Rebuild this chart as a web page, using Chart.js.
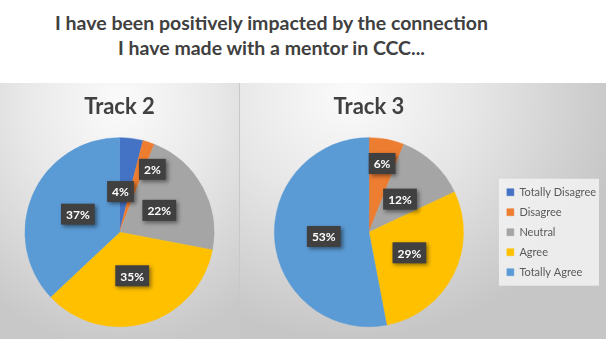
<!DOCTYPE html>
<html>
<head>
<meta charset="utf-8">
<script src="https://cdn.jsdelivr.net/npm/chart.js@4.4.0/dist/chart.umd.min.js"></script>
<style>
  body { margin: 0; width: 606px; height: 339px; background: #fff; overflow: hidden; position: relative; font-family: Lato, sans-serif; }
  #title { position: absolute; left: 0; top: 10px; width: 543px; text-align: center; font-weight: bold; font-size: 19.5px; line-height: 25px; color: #404040; }
  .panel { position: absolute; top: 83px; height: 256px; }
  #p2 { left: 0; width: 239px; background: radial-gradient(ellipse 90% 95% at 50% 8%, #fbfbfb 0%, #e8e8e8 45%, #c8c8c8 100%); }
  #p3 { left: 239px; width: 367px; background: radial-gradient(ellipse 75% 95% at 30% 5%, #fbfbfb 0%, #e6e6e6 45%, #c6c6c6 100%); border-left: 1px solid #c8c8c8; box-sizing: border-box; }
  canvas { display: block; }
</style>
</head>
<body>
<div id="title">I have been positively impacted by the connection<br>I have made with a mentor in CCC...</div>
<div class="panel" id="p2"><canvas id="track2"></canvas></div>
<div class="panel" id="p3"><canvas id="track3"></canvas></div>
<script>
const categorias = ['Totally Disagree', 'Disagree', 'Neutral', 'Agree', 'Totally Agree'];
const track2Valores = [4, 2, 22, 35, 37];
const track3Valores = [0, 6, 12, 29, 53];
const colores = ['#4472C4', '#ED7D31', '#A5A5A5', '#FFC000', '#5B9BD5'];

// etiquetas de porcentaje en cajas oscuras
const etiquetas = {
  id: 'etiquetas',
  afterDatasetsDraw(chart, args, opts) {
    const ctx = chart.ctx;
    const meta = chart.getDatasetMeta(0);
    const data = chart.data.datasets[0].data;
    meta.data.forEach((arc, i) => {
      if (!data[i]) return;
      const p = (opts.pos && opts.pos[i]) || [0.48, 0];
      const mid = (arc.startAngle + arc.endAngle) / 2 + p[1] * Math.PI / 180;
      const r = arc.outerRadius * p[0];
      const x = arc.x + Math.cos(mid) * r;
      const y = arc.y + Math.sin(mid) * r;
      const txt = data[i] + '%';
      ctx.save();
      ctx.font = 'bold 12px Lato';
      const w = ctx.measureText(txt).width + 10;
      const h = 21;
      ctx.shadowColor = 'rgba(0,0,0,0.45)';
      ctx.shadowBlur = 4;
      ctx.shadowOffsetX = 2;
      ctx.shadowOffsetY = 2;
      ctx.fillStyle = '#404040';
      ctx.fillRect(x - w / 2, y - h / 2, w, h);
      ctx.shadowColor = 'transparent';
      ctx.fillStyle = '#ffffff';
      ctx.textAlign = 'center';
      ctx.textBaseline = 'middle';
      ctx.fillText(txt, x, y + 1);
      ctx.restore();
    });
  }
};

// fondo del cuadro de leyenda
const fondoLeyenda = {
  id: 'fondoLeyenda',
  beforeDraw(chart) {
    const lg = chart.legend;
    if (!lg || !lg.options.display || !lg.legendHitBoxes.length) return;
    const hb = lg.legendHitBoxes;
    const x0 = Math.min(...hb.map(b => b.left)) - 8;
    const y0 = hb[0].top - 8;
    const x1 = Math.max(...hb.map(b => b.left + b.width)) + 3;
    const y1 = hb[hb.length - 1].top + hb[hb.length - 1].height + 8;
    const ctx = chart.ctx;
    ctx.save();
    ctx.fillStyle = 'rgba(242,242,242,0.85)';
    ctx.fillRect(x0, y0, x1 - x0, y1 - y0);
    ctx.restore();
  }
};

function hacerPie(id, titulo, valores, conLeyenda, pos, padRight) {
  return new Chart(document.getElementById(id), {
    type: 'pie',
    data: {
      labels: categorias,
      datasets: [{
        data: valores,
        backgroundColor: colores,
        borderColor: colores,
        borderWidth: 0.5
      }]
    },
    options: {
      responsive: true,
      maintainAspectRatio: false,
      animation: false,
      layout: { padding: { top: 0, bottom: 12, left: 0, right: padRight } },
      plugins: {
        title: {
          display: true,
          text: titulo,
          fullSize: false,
          color: '#404040',
          font: { family: 'Lato', size: 22, weight: 'bold' },
          padding: { top: 11, bottom: 17 }
        },
        legend: {
          display: conLeyenda,
          position: 'right',
          fullSize: false,
          align: 'center',
          labels: {
            boxWidth: 7,
            boxHeight: 7,
            padding: 9,
            color: '#595959',
            font: { family: 'Lato', size: 11 }
          }
        },
        tooltip: { enabled: false },
        etiquetas: { pos: pos }
      }
    },
    plugins: [fondoLeyenda, etiquetas]
  });
}

hacerPie('track2', 'Track 2', track2Valores, false, { 0: [0.43, -5.8], 1: [0.75, 9.6] }, 0);
hacerPie('track3', 'Track 3', track3Valores, true, { 1: [0.74, 0] }, 0);
</script>
</body>
</html>
